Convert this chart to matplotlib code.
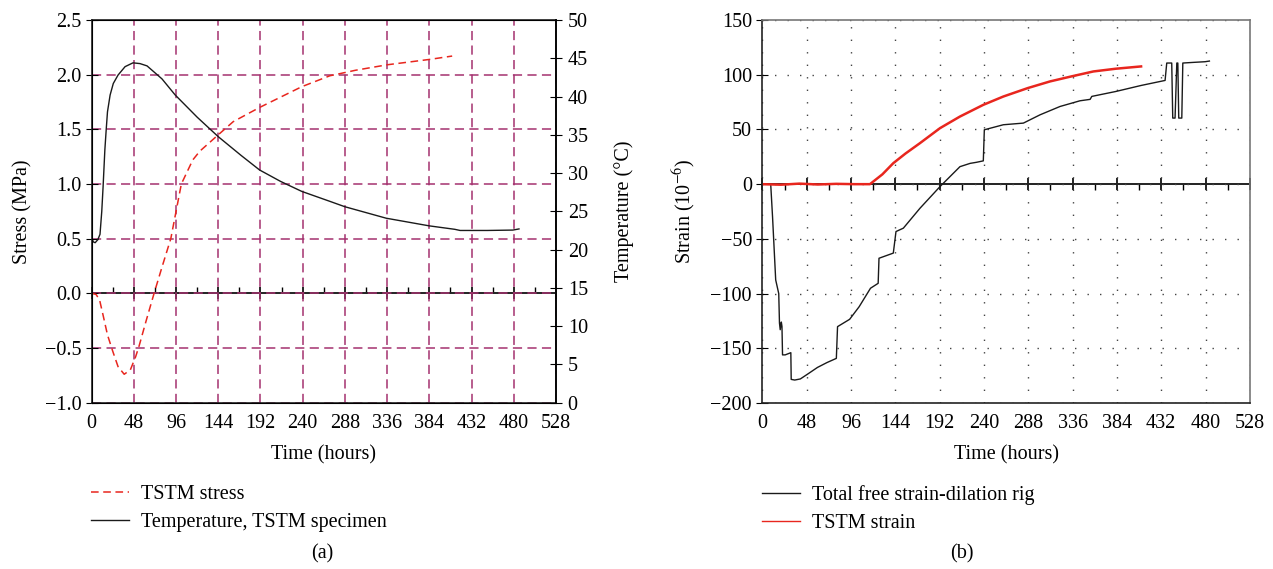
import numpy as np
import matplotlib
matplotlib.use("Agg")
import matplotlib.pyplot as plt

plt.rcParams['font.family'] = ['Liberation Serif', 'DejaVu Serif']
plt.rcParams['mathtext.fontset'] = 'stix'

# (a) TSTM stress [MPa] and specimen temperature [°C]
stress_t = [0, 5, 9, 13, 18, 24, 30, 37, 44, 50, 54, 62, 71, 80, 90, 102, 115, 123, 144, 161, 191, 239, 271, 277, 300, 336, 385, 410]
stress_v = [0, -0.01, -0.06, -0.2, -0.38, -0.53, -0.67, -0.74, -0.7, -0.58, -0.48, -0.25, 0.0, 0.24, 0.5, 1.0, 1.22, 1.3, 1.45, 1.57, 1.70, 1.89, 1.99, 2.0, 2.04, 2.09, 2.14, 2.17]

temp_t = [0, 2, 4, 7, 9.5, 11.5, 13, 15, 16.5, 18, 21, 24.6, 30, 38, 47, 55, 63, 80, 95, 120, 144, 170, 191, 215, 239, 271, 288, 335, 384, 413, 419, 450, 479, 486]
temp_v = [21.5, 21.0, 20.9, 21.3, 22.0, 25.0, 28.2, 33.0, 35.6, 38.0, 40.2, 41.7, 42.8, 43.9, 44.4, 44.3, 44.0, 42.3, 40.2, 37.3, 34.75, 32.3, 30.4, 28.9, 27.6, 26.3, 25.6, 24.1, 23.1, 22.65, 22.5, 22.5, 22.55, 22.7]

# (b) strains [1e-6]
free_t = [0, 9, 11, 14.4, 17.7, 18.5, 19.3, 20.5, 21.2, 21.8, 24.7, 30.8, 31.2, 35, 41.1, 50, 59.6, 70, 80.1, 81.4, 94.5, 104.8, 117.1, 125.4, 126.3, 141.8, 144.7, 152.7, 170.7, 192.4, 214, 225, 232, 239.3, 240.4, 261, 282.7, 300.8, 322.4, 344, 355, 356.8, 382.8, 410.2, 436.2, 438, 443.4, 444.5, 447, 448.9, 450, 451, 454.3, 455.4, 467, 479.5, 484.2]
free_v = [0, 0, -30, -87.5, -100, -127, -133, -126, -130, -156, -156, -154, -178.4, -179, -178, -173, -167.5, -163, -159.2, -130.2, -123.5, -112, -95.1, -90.6, -67.7, -63, -43.3, -40.2, -22, -2.2, 16, 19, 20, 21.3, 49.7, 54.3, 55.8, 63.4, 71, 76.2, 77.5, 80.2, 84.7, 90.2, 94.8, 110.7, 110.7, 60.4, 60.4, 110.7, 110.7, 60.4, 60.4, 110.7, 111.3, 111.9, 112.5]

tstm_t = [0, 20, 40, 60, 80, 100, 116.5, 130, 141.8, 155, 170.7, 192.4, 214, 239.3, 261, 287.4, 311.6, 334.3, 358.5, 382.8, 410.2]
tstm_v = [0, -0.5, 0.5, -0.3, 0.3, 0, 0, 9, 19.2, 28, 37.5, 51.2, 61.8, 72.5, 80.1, 87.8, 93.9, 98.4, 103, 105.5, 107.6]

time_ticks = list(range(0, 529, 48))
stress_ticks = [2.5, 2.0, 1.5, 1.0, 0.5, 0.0, -0.5, -1.0]
stress_labels = ["2.5", "2.0", "1.5", "1.0", "0.5", "0.0", "\u22120.5", "\u22121.0"]
temp_ticks = list(range(0, 51, 5))
strain_ticks = [150, 100, 50, 0, -50, -100, -150, -200]
strain_labels = ["150", "100", "50", "0", "\u221250", "\u2212100", "\u2212150", "\u2212200"]

fs = 14.5
red = "#e8261e"
purple = "#a4326f"

fig = plt.figure(figsize=(12.73, 5.69), dpi=100)

# ---------- (a) ----------
ax = fig.add_axes((0.072, 0.2923, 0.3647, 0.6726))
ax.set_xlim(0, 528)
ax.set_ylim(-1.0, 2.5)
ax.set_xticks(time_ticks)
ax.tick_params(axis='x', length=0, labelsize=fs, pad=8)
ax.set_yticks(stress_ticks)
ax.set_yticklabels(stress_labels)
ax.tick_params(axis='y', direction='inout', length=9, labelsize=fs, pad=3)
ax.grid(True, color=purple, linestyle=(0, (6, 3.5)), linewidth=1.1)
ax.set_xlabel("Time (hours)", fontsize=fs, labelpad=9)
ax.set_ylabel("Stress (MPa)", fontsize=fs, labelpad=9)
for s in ax.spines.values():
    s.set_linewidth(1.2)
    s.set_color("#222222")

sec = ax.secondary_xaxis(1.0 / 3.5)
sec.set_alignment('bottom')
sec.set_xticks(time_ticks)
sec.set_xticks(list(range(24, 529, 48)), minor=True)
sec.tick_params(which='major', direction='inout', length=9, width=1.2, labelbottom=False)
sec.tick_params(which='minor', direction='in', length=4, width=1.0)
sec.spines['bottom'].set_linewidth(1.4)
sec.spines['bottom'].set_color("#222222")

ln1, = ax.plot(stress_t, stress_v, color=red, linestyle=(0, (5, 3)), linewidth=1.1, label="TSTM stress", zorder=3)

ax2 = ax.twinx()
ax2.set_ylim(0, 50)
ax2.set_yticks(temp_ticks)
ax2.tick_params(axis='y', direction='inout', length=9, labelsize=fs, pad=4)
ax2.set_ylabel("Temperature (\u00b0C)", fontsize=fs, labelpad=19)
ax2.spines['right'].set_linewidth(1.2)
ln2, = ax2.plot(temp_t, temp_v, color="#1a1a1a", linewidth=1.0, label="Temperature, TSTM specimen")

fig.legend([ln1, ln2], ["TSTM stress", "Temperature, TSTM specimen"], loc='upper left',
           bbox_to_anchor=(0.0715, 0.148), frameon=False, fontsize=fs, handlelength=1.9,
           handletextpad=0.6, labelspacing=0.45, borderpad=0, borderaxespad=0)
fig.text(0.253, 0.026, "(a)", ha='center', va='center', fontsize=fs)

# ---------- (b) ----------
bx = fig.add_axes((0.5989, 0.2917, 0.3829, 0.6731))
bx.set_xlim(0, 528)
bx.set_ylim(-200, 150)
bx.set_xticks(time_ticks)
bx.tick_params(axis='x', length=0, labelsize=fs, pad=8)
bx.set_yticks(strain_ticks)
bx.set_yticklabels(strain_labels)
bx.tick_params(axis='y', direction='inout', length=9, labelsize=fs, pad=3)
bx.grid(True, color="#444444", linestyle=(0, (1, 8)), linewidth=1.0)
bx.set_xlabel("Time (hours)", fontsize=fs, labelpad=9)
bx.set_ylabel("Strain (10$^{-6}$)", fontsize=fs, labelpad=9)
for name, s in bx.spines.items():
    s.set_linewidth(1.2)
    s.set_color("#222222" if name in ('left', 'bottom') else "#777777")

sec2 = bx.secondary_xaxis(200.0 / 350.0)
sec2.set_alignment('bottom')
sec2.set_xticks(time_ticks)
sec2.set_xticks(list(range(24, 529, 48)), minor=True)
sec2.tick_params(which='major', direction='inout', length=9, width=1.2, labelbottom=False)
sec2.tick_params(which='minor', direction='out', length=4, width=1.0)
sec2.spines['bottom'].set_linewidth(1.4)
sec2.spines['bottom'].set_color("#222222")

ln3, = bx.plot(free_t, free_v, color="#1a1a1a", linewidth=1.0, label="Total free strain-dilation rig")
ln4, = bx.plot(tstm_t, tstm_v, color=red, linewidth=1.8, label="TSTM strain")

leg = fig.legend([ln3, ln4], ["Total free strain-dilation rig", "TSTM strain"], loc='upper left',
                 bbox_to_anchor=(0.5985, 0.148), frameon=False, fontsize=fs, handlelength=1.9,
                 handletextpad=0.6, labelspacing=0.45, borderpad=0, borderaxespad=0)
leg.get_lines()[1].set_linewidth(1.0)
fig.text(0.7557, 0.026, "(b)", ha='center', va='center', fontsize=fs)

fig.savefig("out.png", dpi=100)
